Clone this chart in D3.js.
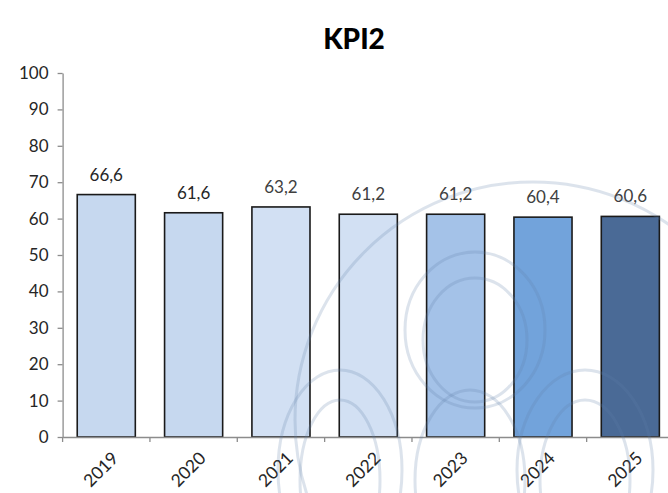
<!DOCTYPE html>
<html>
<head>
<meta charset="utf-8">
<script src="https://cdn.jsdelivr.net/npm/d3@7"></script>
<style>
  body { margin: 0; background: #fff; }
  svg { display: block; font-family: Lato, "Open Sans", sans-serif; }
</style>
</head>
<body>
<svg id="chart"></svg>
<script>
const years = ["2019", "2020", "2021", "2022", "2023", "2024", "2025"];
const values = [66.6, 61.6, 63.2, 61.2, 61.2, 60.4, 60.6];
const barColors = ["#c6d8ef", "#c6d8ef", "#d2e0f3", "#d2e0f3", "#a4c2e8", "#72a3db", "#4a6a96"];
const labelColors = ["#262626", "#262626", "#404040", "#404040", "#404040", "#404040", "#404040"];
const yTicks = [0, 10, 20, 30, 40, 50, 60, 70, 80, 90, 100];

const width = 668, height = 493;
const margin = { top: 73, right: -6, bottom: 56, left: 62.6 };

const svg = d3.select("#chart")
    .attr("width", width)
    .attr("height", height);

const x = d3.scaleBand()
    .domain(years)
    .range([margin.left, width - margin.right])
    .paddingInner(0.335)
    .paddingOuter(0.1675);

const y = d3.scaleLinear()
    .domain([0, 100])
    .range([height - margin.bottom, margin.top]);

// title
svg.append("text")
    .attr("x", 354)
    .attr("y", 49)
    .attr("text-anchor", "middle")
    .attr("font-size", "28px")
    .attr("font-weight", "900")
    .attr("fill", "#000")
    .text("KPI2");

// y axis
const yAxis = svg.append("g")
    .attr("transform", `translate(${margin.left}, 0)`)
    .call(d3.axisLeft(y).tickValues(yTicks).tickSize(5).tickPadding(9).tickSizeOuter(0));
yAxis.select(".domain").attr("stroke", "#8c8c8c").attr("stroke-width", 1.3);
yAxis.selectAll(".tick line").attr("stroke", "#8c8c8c").attr("stroke-width", 1.3);
yAxis.selectAll(".tick text")
    .attr("font-size", "17px")
    .attr("fill", "#262626")
    .attr("font-family", "Lato, sans-serif");

// bars
svg.append("g")
    .selectAll("rect")
    .data(values)
    .join("rect")
    .attr("x", (d, i) => x(years[i]))
    .attr("y", d => y(d))
    .attr("width", x.bandwidth())
    .attr("height", d => y(0) - y(d))
    .attr("fill", (d, i) => barColors[i])
    .attr("stroke", "#1a1a1a")
    .attr("stroke-width", 1.6);

// value labels
svg.append("g")
    .selectAll("text")
    .data(values)
    .join("text")
    .attr("x", (d, i) => x(years[i]) + x.bandwidth() / 2)
    .attr("y", d => y(d) - 14)
    .attr("text-anchor", "middle")
    .attr("font-size", "17px")
    .attr("fill", (d, i) => labelColors[i])
    .text(d => d.toFixed(1).replace(".", ","));

// x axis
const xAxis = svg.append("g")
    .attr("transform", `translate(0, ${y(0)})`)
    .call(d3.axisBottom(x).tickSize(0).tickSizeOuter(0).tickFormat(""));
xAxis.select(".domain").attr("stroke", "#8c8c8c").attr("stroke-width", 1.3);

// tick marks between categories
const edges = [margin.left].concat(years.map(d => x(d) - x.step() * x.paddingInner() / 2).slice(1));
xAxis.selectAll(".edge")
    .data(edges)
    .join("line")
    .attr("x1", d => d).attr("x2", d => d)
    .attr("y1", 0).attr("y2", 5)
    .attr("stroke", "#8c8c8c")
    .attr("stroke-width", 1.3);

// rotated year labels
svg.append("g")
    .selectAll("text")
    .data(years)
    .join("text")
    .attr("transform", d => `translate(${x(d) + x.bandwidth() / 2 + 4}, ${y(0) + 13}) rotate(-45)`)
    .attr("text-anchor", "end")
    .attr("dy", "0.75em")
    .attr("font-size", "17.5px")
    .attr("fill", "#262626")
    .text(d => d);

// faint watermark drawn over the plot
const wm = svg.append("g")
    .attr("fill", "none")
    .attr("stroke", "#5f7fa8")
    .attr("stroke-opacity", 0.22)
    .attr("stroke-width", 3);
wm.append("circle").attr("cx", 533).attr("cy", 420).attr("r", 238);
wm.append("ellipse").attr("cx", 475).attr("cy", 330).attr("rx", 70).attr("ry", 78);
wm.append("ellipse").attr("cx", 475).attr("cy", 340).attr("rx", 52).attr("ry", 62);
wm.append("ellipse").attr("cx", 340).attr("cy", 470).attr("rx", 62).attr("ry", 100);
wm.append("ellipse").attr("cx", 340).attr("cy", 480).attr("rx", 40).attr("ry", 80);
wm.append("ellipse").attr("cx", 585).attr("cy", 470).attr("rx", 68).attr("ry", 100);
wm.append("ellipse").attr("cx", 585).attr("cy", 480).attr("rx", 45).attr("ry", 80);
wm.append("ellipse").attr("cx", 470).attr("cy", 480).attr("rx", 55).attr("ry", 90);
</script>
</body>
</html>
